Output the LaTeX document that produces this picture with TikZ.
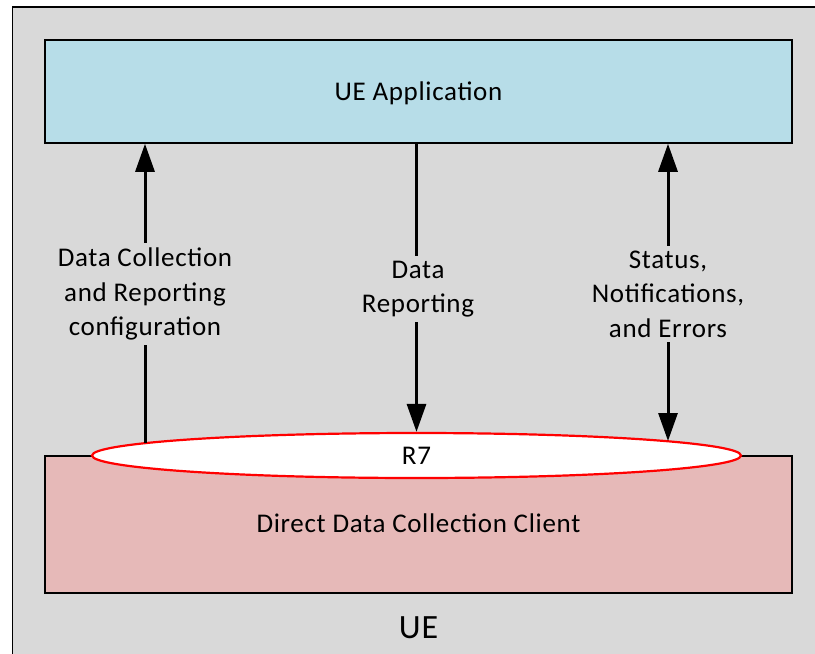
\documentclass[tikz,border=0pt]{standalone}
\usepackage{fontspec}
\setmainfont[LetterSpace=2.5]{Carlito}
\usetikzlibrary{arrows.meta,shapes.geometric}
\definecolor{uegray}{HTML}{D9D9D9}
\definecolor{appblue}{HTML}{B7DDE8}
\definecolor{clientpink}{HTML}{E6B9B8}
\tikzset{
  box/.style={draw=black, line width=1.5pt, inner sep=0pt},
  lbl/.style={fill=uegray, align=center, inner xsep=2pt, inner ysep=5pt,
    font=\fontsize{27pt}{34.5pt}\selectfont},
  flow/.style={line width=3pt, -{Triangle[length=28pt,width=19pt]}},
  flowboth/.style={line width=3pt, {Triangle[length=28pt,width=19pt]}-{Triangle[length=28pt,width=19pt]}},
}
\begin{document}
\begin{tikzpicture}[x=1pt,y=-1pt]
\useasboundingbox (0,0) rectangle (815,654);
\clip (0,0) rectangle (815,654);
% outer UE frame
\node[box, fill=uegray, minimum width=830pt, minimum height=670pt, anchor=north west] (ue) at (11.5,6) {};
\node[font=\fontsize{34pt}{40pt}\selectfont] (uelbl) at (418.5,628) {UE};
% boxes
\node[box, fill=appblue, minimum width=747pt, minimum height=103pt] (app) at (418.5,91.5) {};
\node[font=\fontsize{27pt}{33pt}\selectfont] (applbl) at (418.5,93) {UE Application};
\node[box, fill=clientpink, minimum width=747pt, minimum height=137pt, anchor=north] (client) at (418.5,455) {};
\node[font=\fontsize{27pt}{33pt}\selectfont] (clientlbl) at (418.5,523) {Direct Data Collection Client};
\node[ellipse, draw=red, line width=2.2pt, fill=white, minimum width=649pt, minimum height=45pt, inner sep=0pt, font=\fontsize{27pt}{33pt}\selectfont] (r7) at (416.5,455.5) {R7};
% arrow end points on the R7 ellipse
\coordinate (lft) at (145,443);
\coordinate (rgt) at (668,441);
\coordinate (appL) at (app.south -| lft);
\coordinate (appR) at (app.south -| rgt);
\coordinate (appM) at (app.south -| r7.north);
% connectors
\draw[flow] (lft) -- (appL);
\draw[flow] (appM) -- (r7.north);
\draw[flowboth] (appR) -- (rgt);
% labels
\node[lbl] (l1) at (145,294) {Data Collection\\and Reporting\\configuration};
\node[lbl] (l2) at (418,289) {Data\\Reporting};
\node[lbl] (l3) at (668,294) {Status,\\Notifications,\\and Errors};
\end{tikzpicture}
\end{document}
